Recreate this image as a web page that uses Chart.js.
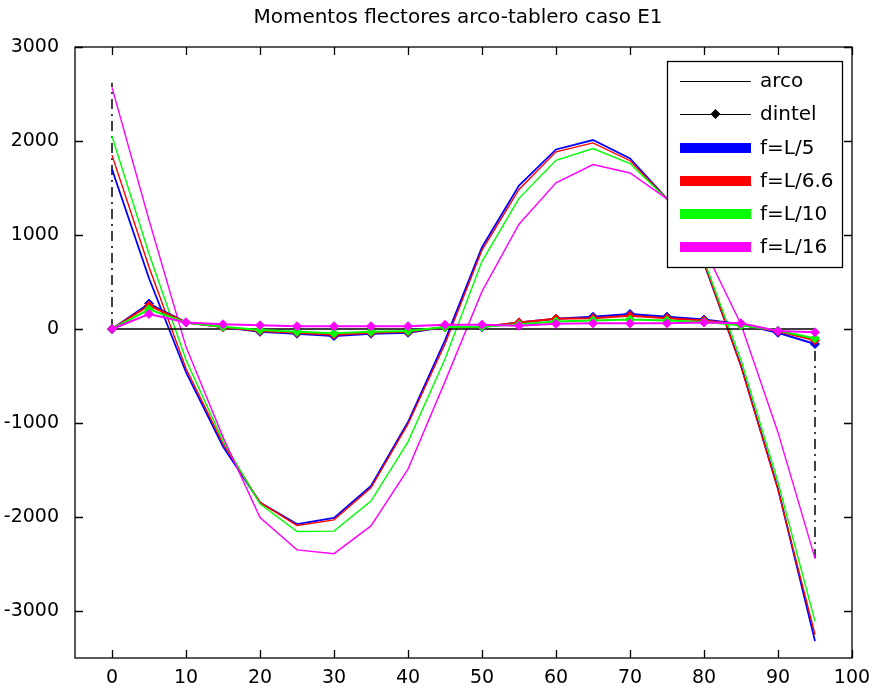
<!DOCTYPE html>
<html>
<head>
<meta charset="utf-8">
<title>Momentos flectores arco-tablero caso E1</title>
<script src="https://cdn.jsdelivr.net/npm/chart.js@4/dist/chart.umd.min.js"></script>
<style>
  html, body { margin: 0; padding: 0; background: #fff; }
  #wrap { width: 874px; height: 691px; }
</style>
</head>
<body>
<div id="wrap"><canvas id="chart" width="874" height="691"></canvas></div>
<script>
// Abscisas de las secciones (m)
const stations = [0, 5, 10, 15, 20, 25, 30, 35, 40, 45, 50, 55, 60, 65, 70, 75, 80, 85, 90, 95];

// Momentos en el arco para cada flecha
const arcoL5   = [1700, 540, -460, -1250, -1845, -2075, -2010, -1670, -990, -120, 870, 1525, 1910, 2010, 1815, 1385, 700, -390, -1700, -3320];
const arcoL66  = [1850, 660, -420, -1220, -1845, -2090, -2030, -1690, -1010, -160, 840, 1485, 1885, 1980, 1790, 1385, 710, -400, -1710, -3250];
const arcoL10  = [2050, 800, -330, -1190, -1860, -2155, -2150, -1830, -1200, -320, 720, 1390, 1795, 1920, 1760, 1380, 730, -330, -1630, -3110];
const arcoL16  = [2570, 1160, -190, -1150, -2005, -2350, -2390, -2095, -1490, -560, 400, 1115, 1555, 1750, 1660, 1385, 860, 50, -1100, -2440];

// Momentos en el dintel (tablero) para cada flecha
const dintelL5  = [0, 270, 70, 20, -30, -50, -75, -50, -40, 20, 20, 70, 110, 130, 160, 130, 100, 50, -40, -160];
const dintelL66 = [0, 250, 70, 20, -20, -40, -60, -40, -30, 20, 25, 70, 110, 115, 140, 115, 90, 45, -25, -120];
const dintelL10 = [0, 210, 70, 25, -10, -30, -45, -30, -20, 20, 25, 50, 80, 90, 100, 90, 75, 40, -15, -100];
const dintelL16 = [0, 160, 70, 50, 40, 30, 30, 30, 30, 45, 45, 35, 55, 60, 60, 60, 70, 60, -20, -35];

// Apoyos extremos (línea de trazo y punto)
const supportX   = [0, 95];
const supportEnd = [2620, -2440];

// Eje de referencia del tablero
const axisLineX = [0, 95];
const axisLineY = [0, 0];

// Rótulos y colores
const chartTitle   = 'Momentos flectores arco-tablero caso E1';
const seriesLabels = ['f=L/5', 'f=L/6.6', 'f=L/10', 'f=L/16'];
const seriesColors = ['#0000ff', '#ff0000', '#00ff00', '#ff00ff'];
const styleLabels  = ['arco', 'dintel'];

// Marcas de los ejes
const xTicks = [0, 10, 20, 30, 40, 50, 60, 70, 80, 90, 100];
const yTicks = [-3000, -2000, -1000, 0, 1000, 2000, 3000];

const FONT = 'DejaVu Sans';

const toXY = (xs, ys) => xs.map((x, i) => ({ x: x, y: ys[i] }));

const arcoSets = [arcoL5, arcoL66, arcoL10, arcoL16];
const dintelSets = [dintelL5, dintelL66, dintelL10, dintelL16];

const datasets = [];

// Líneas verticales de los apoyos
supportX.forEach((x, i) => {
  datasets.push({
    label: 'apoyo',
    data: [{ x: x, y: 0 }, { x: x, y: supportEnd[i] }],
    borderColor: '#404040',
    borderWidth: 2,
    borderDash: [10, 5, 2, 5],
    pointRadius: 0,
    order: 20
  });
});

// Curvas del arco
arcoSets.forEach((vals, i) => {
  datasets.push({
    label: 'arco ' + seriesLabels[i],
    data: toXY(stations, vals),
    borderColor: seriesColors[i],
    borderWidth: i === 0 ? 1.8 : 1.4,
    pointRadius: 0,
    order: 15 - i
  });
});

// Eje del tablero
datasets.push({
  label: 'eje',
  data: toXY(axisLineX, axisLineY),
  borderColor: '#000',
  borderWidth: 1.3,
  pointRadius: 0,
  order: 10
});

// Curvas del dintel con marcadores
dintelSets.forEach((vals, i) => {
  datasets.push({
    label: 'dintel ' + seriesLabels[i],
    data: toXY(stations, vals),
    borderColor: seriesColors[i],
    backgroundColor: seriesColors[i],
    borderWidth: 2,
    pointStyle: 'rectRot',
    pointRadius: 4.5,
    pointBorderWidth: 1,
    order: 8 - i
  });
});

// Título, marco de ejes con marcas interiores y leyenda
const framePlugin = {
  id: 'frame',
  afterDraw(chart) {
    const ctx = chart.ctx;
    const a = chart.chartArea;
    const xs = chart.scales.x, ys = chart.scales.y;
    const tl = 8;
    ctx.save();

    ctx.fillStyle = '#000';
    ctx.font = '20px "' + FONT + '"';
    ctx.textAlign = 'center';
    ctx.textBaseline = 'middle';
    ctx.fillText(chartTitle, 458, 18);

    ctx.strokeStyle = '#000';
    ctx.lineWidth = 1.3;
    ctx.strokeRect(a.left, a.top, a.right - a.left, a.bottom - a.top);
    ctx.beginPath();
    xTicks.forEach(v => {
      const px = Math.round(xs.getPixelForValue(v)) + 0.5;
      ctx.moveTo(px, a.bottom); ctx.lineTo(px, a.bottom - tl);
      ctx.moveTo(px, a.top);    ctx.lineTo(px, a.top + tl);
    });
    yTicks.forEach(v => {
      const py = Math.round(ys.getPixelForValue(v)) + 0.5;
      ctx.moveTo(a.left, py);  ctx.lineTo(a.left + tl, py);
      ctx.moveTo(a.right, py); ctx.lineTo(a.right - tl, py);
    });
    ctx.stroke();

    // Leyenda
    const bx = 667, by = 61, bw = 175, bh = 206;
    ctx.fillStyle = '#fff';
    ctx.fillRect(bx, by, bw, bh);
    ctx.lineWidth = 1.3;
    ctx.strokeStyle = '#000';
    ctx.strokeRect(bx + 0.5, by + 0.5, bw, bh);
    const x0 = 680, x1 = 751, tx = 760;
    const rows = [81, 114, 148, 181, 214, 247];
    const labels = styleLabels.concat(seriesLabels);
    ctx.font = '20px "' + FONT + '"';
    ctx.textBaseline = 'middle';
    ctx.textAlign = 'left';
    labels.forEach((lab, i) => {
      const y = rows[i];
      ctx.beginPath();
      if (i < 2) {
        ctx.strokeStyle = '#000';
        ctx.lineWidth = 1.2;
        ctx.moveTo(x0, y + 0.5); ctx.lineTo(x1, y + 0.5);
        ctx.stroke();
        if (i === 1) {
          const cx = (x0 + x1) / 2;
          ctx.fillStyle = '#000';
          ctx.beginPath();
          ctx.moveTo(cx, y - 5); ctx.lineTo(cx + 5, y); ctx.lineTo(cx, y + 5); ctx.lineTo(cx - 5, y);
          ctx.closePath();
          ctx.fill();
        }
      } else {
        ctx.fillStyle = seriesColors[i - 2];
        ctx.fillRect(x0, y - 5, x1 - x0, 10);
      }
      ctx.fillStyle = '#000';
      ctx.fillText(lab, tx, y + 1);
    });
    ctx.restore();
  }
};

new Chart(document.getElementById('chart'), {
  type: 'line',
  data: { datasets: datasets },
  options: {
    responsive: false,
    devicePixelRatio: 1,
    animation: false,
    layout: { padding: { left: 0, right: 22, top: 47, bottom: 0 } },
    plugins: {
      legend: { display: false },
      tooltip: { enabled: false },
      title: { display: false }
    },
    scales: {
      x: {
        type: 'linear',
        min: -5,
        max: 100,
        grid: { display: false },
        border: { display: false },
        afterBuildTicks: s => { s.ticks = xTicks.map(v => ({ value: v })); },
        afterFit: s => { s.height = 33; },
        ticks: {
          color: '#000',
          padding: 1,
          maxRotation: 0,
          font: { family: FONT, size: 19 },
          callback: v => String(v)
        }
      },
      y: {
        type: 'linear',
        min: -3500,
        max: 3000,
        grid: { display: false },
        border: { display: false },
        afterBuildTicks: s => { s.ticks = yTicks.map(v => ({ value: v })); },
        afterFit: s => { s.width = 75; },
        ticks: {
          color: '#000',
          padding: 8,
          font: { family: FONT, size: 19 },
          callback: v => String(v)
        }
      }
    }
  },
  plugins: [framePlugin]
});
</script>
</body>
</html>
